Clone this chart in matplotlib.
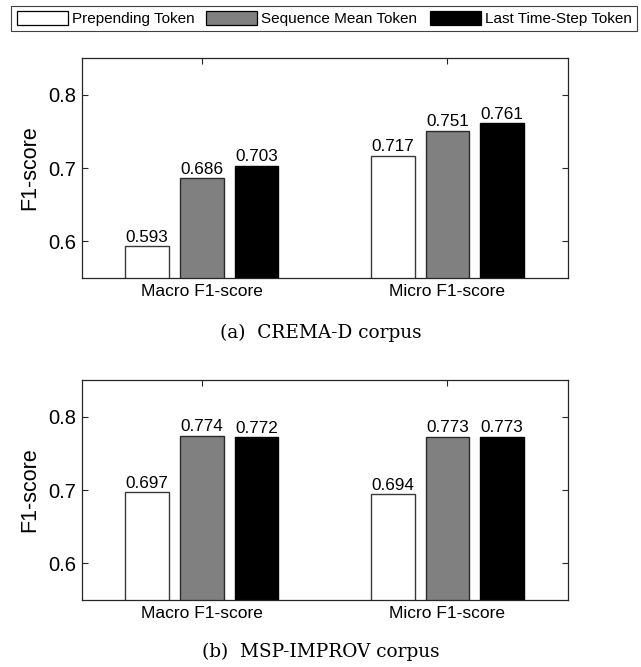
import matplotlib
matplotlib.use("Agg")
import matplotlib.pyplot as plt
from matplotlib.patches import Patch
import numpy as np

# F1 results per token strategy, for macro and micro averaging
metrics = ["Macro F1-score", "Micro F1-score"]
token_names = ["Prepending Token", "Sequence Mean Token", "Last Time-Step Token"]
crema_scores = [
    [0.593, 0.717],  # prepending
    [0.686, 0.751],  # sequence mean
    [0.703, 0.761],  # last time-step
]
msp_scores = [
    [0.697, 0.694],
    [0.774, 0.773],
    [0.772, 0.773],
]
captions = ["(a)  CREMA-D corpus", "(b)  MSP-IMPROV corpus"]
y_ticks = [0.6, 0.7, 0.8]

fills = ["white", "#808080", "black"]
edges = ["#3a3a3a", "#2a2a2a", "black"]
sans = ["Liberation Sans", "DejaVu Sans"]
serif = ["DejaVu Serif"]

fig = plt.figure(figsize=(6.41, 6.67), dpi=100)

panels = [
    (crema_scores, [0.1275, 0.5832, 0.758, 0.3298], 0.5007),
    (msp_scores, [0.1275, 0.1004, 0.758, 0.3298], 0.0225),
]

x = np.arange(1, len(metrics) + 1)
width = 0.178
step = 0.2227

for (scores, rect, cap_y), caption in zip(panels, captions):
    ax = fig.add_axes(rect)
    for k, vals in enumerate(scores):
        pos = x + (k - 1) * step
        bars = ax.bar(pos, vals, width=width, color=fills[k],
                      edgecolor=edges[k], linewidth=1.0, zorder=2)
        for b, v in zip(bars, vals):
            ax.text(b.get_x() + b.get_width() / 2, v + 0.002, f"{v:.3f}",
                    ha="center", va="bottom", fontsize=12.3, family=sans)
    ax.set_xlim(0.511, 2.489)
    ax.set_ylim(0.55, 0.85)
    ax.set_xticks(x)
    ax.set_xticklabels(metrics, fontsize=12.5, family=sans)
    ax.set_yticks(y_ticks)
    ax.set_yticklabels([f"{t:.1f}" for t in y_ticks], fontsize=14.5, family=sans)
    ax.tick_params(direction="in", length=4, width=0.8, color="#262626",
                   top=True, right=True, pad=4)
    ax.tick_params(axis="x", pad=4)
    for s in ax.spines.values():
        s.set_color("#262626")
        s.set_linewidth(0.9)
    ax.set_ylabel("F1-score", fontsize=15.5, family=sans, labelpad=6)
    fig.text(0.5, cap_y, caption, ha="center", va="center",
             fontsize=13.3, family=serif)

handles = [Patch(facecolor=f, edgecolor="black", linewidth=0.9) for f in fills]
leg = fig.legend(handles, token_names, loc="center",
                 bbox_to_anchor=(324 / 641, 1 - 18.9 / 667), ncol=3,
                 fancybox=False, edgecolor="#404040", framealpha=1,
                 borderpad=0.33, handlelength=3.34, handleheight=0.98,
                 handletextpad=0.26, columnspacing=0.8, borderaxespad=0,
                 prop={"family": sans, "size": 11})
leg.get_frame().set_linewidth(0.8)

fig.savefig("out.png", dpi=100)
